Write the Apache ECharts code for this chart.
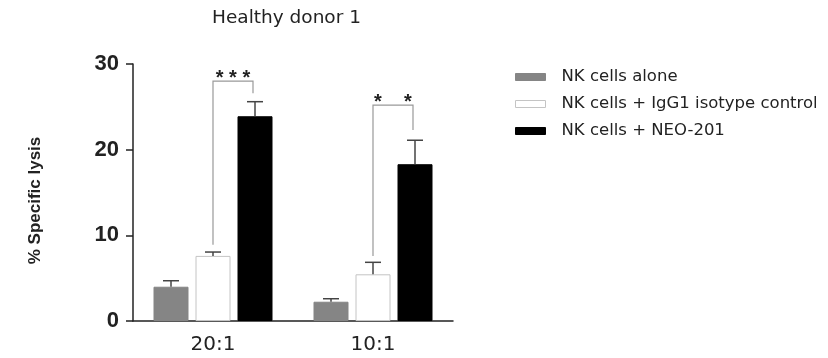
<!DOCTYPE html>
<html><head><meta charset="utf-8">
<script src="https://cdn.jsdelivr.net/npm/echarts@6/dist/echarts.min.js"></script>
<style>html,body{margin:0;padding:0;background:#fff}#c{width:828px;height:358px}</style>
</head><body><div id="c"></div>
<script>
const categories = ['20:1', '10:1'];
const seriesNames = ['NK cells alone', 'NK cells + IgG1 isotype control', 'NK cells + NEO-201'];
const alone = [4.0, 2.25];
const aloneErr = [4.7, 2.6];
const igg = [7.6, 5.45];
const iggErr = [8.05, 6.85];
const neo = [23.9, 18.3];
const neoErr = [25.6, 21.1];
// brackets: [category, left foot, top, right foot, stars]
const brackets = [[0, 8.9, 28.0, 26.6, '* * *'], [1, 7.6, 25.2, 22.3, '*    *']];
const yTicks = [0, 10, 20, 30];

const BW = 35, GAP = 7;
const FONT = 'Arial, "Liberation Sans"';
const chart = echarts.init(document.getElementById('c'));
const colors = ['#858585', '#ffffff', '#000000'];
const borders = ['#858585', '#c4c4c4', '#000000'];
const vals = [alone, igg, neo];
const errs = [aloneErr, iggErr, neoErr];

const barSeries = seriesNames.map((n, i) => ({
  name: n, type: 'bar', data: vals[i], barWidth: BW, barGap: (GAP / BW * 100) + '%',
  itemStyle: { color: colors[i], borderColor: borders[i], borderWidth: 1 }, z: 2
}));

const errData = [];
for (let s = 0; s < 3; s++) for (let c = 0; c < 2; c++) errData.push([c, vals[s][c], errs[s][c], s]);

const errSeries = {
  type: 'custom', data: errData, z: 3, silent: true,
  renderItem: (p, api) => {
    const c = api.value(0), off = (api.value(3) - 1) * (BW + GAP);
    const a = api.coord([c, api.value(1)]), b = api.coord([c, api.value(2)]);
    const x = a[0] + off;
    const st = { stroke: '#444', lineWidth: 1.5 };
    return { type: 'group', children: [
      { type: 'line', shape: { x1: x, y1: a[1], x2: x, y2: b[1] }, style: st },
      { type: 'line', shape: { x1: x - 8, y1: b[1], x2: x + 8, y2: b[1] }, style: st }
    ]};
  }
};

const brSeries = {
  type: 'custom', data: brackets, z: 4, silent: true,
  renderItem: (p, api) => {
    const c = api.value(0);
    const l = api.coord([c, api.value(1)]), t = api.coord([c, api.value(2)]), r = api.coord([c, api.value(3)]);
    const xl = l[0], xr = l[0] + BW + GAP - 2;
    const st = { stroke: '#999', lineWidth: 1.2, fill: null };
    return { type: 'group', children: [
      { type: 'polyline', shape: { points: [[xl, l[1]], [xl, t[1]], [xr, t[1]], [xr, r[1]]] }, style: st },
      { type: 'text', x: (xl + xr) / 2, y: t[1] - 3, style: { text: brackets[p.dataIndex][4], align: 'center', verticalAlign: 'middle', font: 'bold 20px ' + FONT, fill: '#222' } }
    ]};
  }
};

chart.setOption({
  animation: false,
  title: { text: 'Healthy donor 1', left: 207, top: 4, textStyle: { fontFamily: '"DejaVu Sans"', fontSize: 18.5, fontWeight: 'normal', color: '#222' } },
  legend: {
    orient: 'vertical', left: 510, top: 63, itemWidth: 30, itemHeight: 7, itemGap: 9, icon: 'rect',
    data: seriesNames,
    textStyle: { fontFamily: '"DejaVu Sans"', fontSize: 16.5, color: '#222', padding: [0, 0, 0, 11], lineHeight: 18 },
    itemStyle: { borderWidth: 1 }
  },
  grid: { left: 133, right: 375, top: 64, bottom: 37, containLabel: false },
  xAxis: {
    type: 'category', data: categories,
    axisLine: { lineStyle: { color: '#222', width: 1.5 } },
    axisTick: { alignWithLabel: true, length: 7, lineStyle: { color: '#222', width: 1.5 } },
    axisLabel: { fontFamily: '"DejaVu Sans"', fontSize: 20, color: '#222', margin: 14 }
  },
  yAxis: {
    type: 'value', min: 0, max: 30, interval: 10,
    name: '% Specific lysis', nameLocation: 'middle', nameGap: 89, nameRotate: 90,
    nameTextStyle: { fontFamily: FONT, fontSize: 17, fontWeight: 'bold', color: '#222', padding: [0, 16, 0, 0] },
    axisLine: { show: true, lineStyle: { color: '#222', width: 1.5 } },
    axisTick: { show: true, length: 7, lineStyle: { color: '#222', width: 1.5 } },
    splitLine: { show: false },
    axisLabel: { fontFamily: FONT, fontSize: 22, fontWeight: 'bold', color: '#222', margin: 14,
      formatter: v => yTicks.includes(v) ? String(v) : '' }
  },
  series: [...barSeries, errSeries, brSeries]
});
</script></body></html>
